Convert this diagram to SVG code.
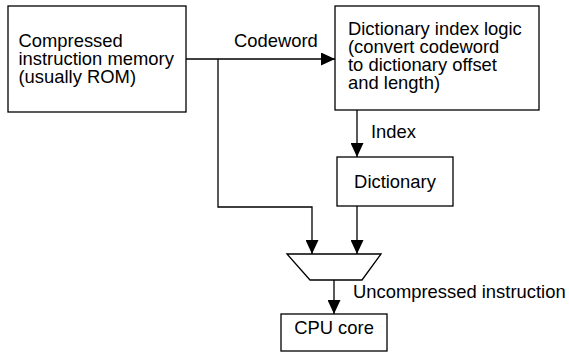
<svg xmlns="http://www.w3.org/2000/svg" width="569" height="352" viewBox="0 0 569 352">
<style>
.box{fill:#fff;stroke:#000;stroke-width:1.3}
.t{font-family:"Liberation Sans",Arial,sans-serif;font-size:18.4px;fill:#000}
.c{fill:none;stroke:#000;stroke-width:1.3}
</style>
<defs>
<marker id="ah" markerUnits="userSpaceOnUse" markerWidth="14" markerHeight="13" refX="14" refY="6.5" orient="auto">
<path d="M0,0 L14,6.5 L0,13 Z" fill="#000"/>
</marker>
</defs>
<rect width="569" height="352" fill="#fff"/>
<g id="connectors">
<path class="c" d="M186,59 H335" marker-end="url(#ah)"/>
<path class="c" d="M218,59 V207 H312 V254" marker-end="url(#ah)"/>
<path class="c" d="M357,110 V157" marker-end="url(#ah)"/>
<path class="c" d="M357,206 V254" marker-end="url(#ah)"/>
<path class="c" d="M334,280 V314" marker-end="url(#ah)"/>
<text class="t" x="234" y="47">Codeword</text>
<text class="t" x="371" y="138">Index</text>
<text class="t" x="353" y="298">Uncompressed instruction</text>
</g>
<g id="memory">
<rect class="box" x="8" y="6" width="178" height="106"/>
<text class="t" x="18.5" y="46.7">Compressed</text>
<text class="t" x="18.5" y="64.7">instruction memory</text>
<text class="t" x="18.5" y="82.7">(usually ROM)</text>
</g>
<g id="indexlogic">
<rect class="box" x="335" y="6" width="204" height="104"/>
<text class="t" x="348" y="35">Dictionary index logic</text>
<text class="t" x="348" y="53">(convert codeword</text>
<text class="t" x="348" y="71">to dictionary offset</text>
<text class="t" x="348" y="89">and length)</text>
</g>
<g id="dictionary">
<rect class="box" x="337" y="157" width="116" height="49"/>
<text class="t" x="395" y="188" text-anchor="middle">Dictionary</text>
</g>
<g id="mux">
<path class="box" d="M287,254 H381 L362,280 H310 Z"/>
</g>
<g id="cpu">
<rect class="box" x="281" y="314" width="106" height="37"/>
<text class="t" x="334" y="334" text-anchor="middle">CPU core</text>
</g>
</svg>
